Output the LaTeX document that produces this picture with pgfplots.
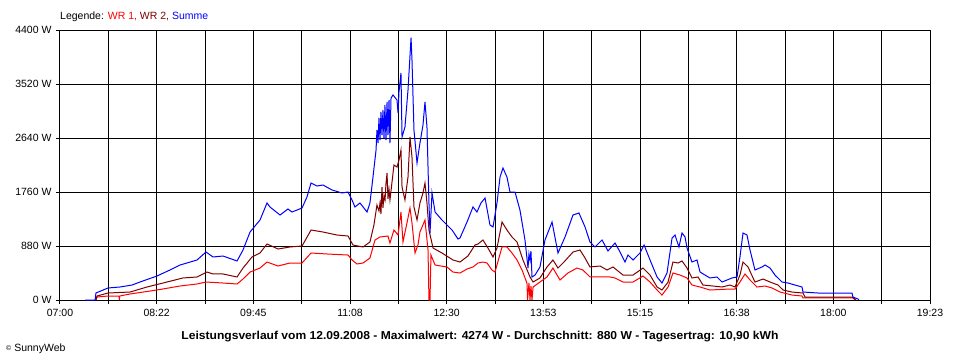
\documentclass[border=0pt]{standalone}
\usepackage{graphicx}
\usepackage{pgfplots}
\pgfplotsset{compat=1.18}
\usepackage{fontspec}
\setmainfont{Liberation Sans}
\definecolor{wrone}{RGB}{255,0,0}
\definecolor{wrtwo}{RGB}{128,0,0}
\definecolor{summe}{RGB}{0,0,255}
\definecolor{gline}{RGB}{128,128,128}
\begin{document}
\begin{tikzpicture}
\useasboundingbox (-60pt,-60pt) rectangle (900pt,300pt);
\begin{axis}[
  at={(0pt,0pt)}, anchor=south west,
  scale only axis, width=870pt, height=270pt,
  xmin=420, xmax=1163, ymin=0, ymax=4400,
  xtick={420,461.278,502.556,543.833,585.111,626.389,667.667,708.944,750.222,791.5,832.778,874.056,915.333,956.611,997.889,1039.167,1080.444,1121.722,1163},
  xticklabels={07:00,,08:22,,09:45,,11:08,,12:30,,13:53,,15:15,,16:38,,18:00,,19:23},
  ytick={0,1760,2640,3520,4400},
  yticklabels={0 W,1760 W,2640 W,3520 W,4400 W},
  extra y ticks={880}, extra y tick labels={880 W},
  extra y tick style={grid style={gline, line width=1pt}},
  grid=major, major grid style={black, line width=1pt},
  axis line style={black, line width=1pt},
  tick style={black, line width=1pt}, tick align=outside, major tick length=4pt,
  xtick pos=bottom, ytick pos=left,
  ticklabel style={font=\fontsize{10.5}{12}\selectfont},
  xticklabel style={yshift=-2pt},
  yticklabel style={xshift=-1pt},
]
% WR 1 (red)
\addplot[draw=wrone, line width=1pt] table {
450.7 0
451.6 49
461.0 65
470.4 65
470.7 0
471.0 65
479.8 98
502.8 163
522.5 228
537.0 261
544.7 293
559.2 277
571.2 261
576.3 342
582.3 456
590.8 521
596.8 619
606.2 554
616.4 603
626.7 603
634.4 766
648.0 750
666.0 733
669.4 652
673.6 587
678.8 603
684.7 684
689.0 978
693.3 1027
700.1 1043
701.8 929
705.2 1141
708.7 1059
711.2 1434
712.9 945
716.3 1255
718.9 1499
720.6 1255
723.2 766
725.7 896
727.4 1108
731.7 1304
734.3 815
735.1 0
736.0 0
736.8 733
740.3 570
750.5 538
755.6 456
761.6 440
767.6 505
772.7 538
777.0 603
781.2 619
784.7 603
788.9 489
791.5 456
797.5 864
801.7 864
806.0 766
810.3 652
814.6 489
817.1 359
818.8 277
819.3 0
820.5 277
821.4 0
822.2 228
823.1 0
824.0 212
829.9 293
835.9 375
841.0 521
847.0 326
853.8 440
861.5 521
866.6 489
872.6 375
883.7 375
889.7 375
894.0 359
900.8 293
909.4 293
917.9 391
923.9 293
929.9 163
934.1 81
939.3 212
943.5 440
949.5 407
955.5 359
959.7 244
966.6 212
975.1 163
992.2 179
996.5 179
1000.7 293
1005.0 424
1009.3 326
1015.2 212
1022.1 228
1028.1 196
1034.9 130
1045.1 81
1053.7 65
1054.5 33
1097.2 33
1098.9 0
};
% WR 2 (dark red)
\addplot[draw=wrtwo, line width=1pt] table {
450.7 0
451.6 65
461.0 114
479.8 130
494.3 212
508.0 277
525.0 359
537.0 375
545.5 456
550.7 424
559.2 424
571.2 375
576.3 521
584.0 701
590.8 766
596.8 913
606.2 831
616.4 864
626.7 880
634.4 1141
644.6 1108
656.6 1059
666.0 1043
670.2 896
678.8 864
684.7 945
688.1 1222
690.7 1548
692.4 1450
693.3 1581
694.1 1400
695.0 1841
695.8 1500
696.7 1700
697.6 1630
698.4 1900
699.3 2070
700.1 1650
701.0 1800
701.8 1630
705.2 2200
707.8 2167
709.5 2281
711.2 2444
712.1 1841
714.6 1630
717.2 2004
718.9 2656
720.6 2330
722.3 1516
724.9 1304
727.4 1581
730.0 1744
731.7 1907
733.4 1581
735.1 1141
738.6 847
746.2 766
755.6 652
761.6 619
768.4 717
774.4 896
777.0 913
781.2 978
785.5 847
789.8 701
793.2 847
797.5 1271
801.7 1141
806.0 1027
810.3 945
815.4 652
821.4 375
824.0 293
829.9 359
835.9 538
841.0 652
845.3 521
850.4 619
858.1 782
864.1 815
868.4 684
872.6 538
881.2 554
887.2 489
892.3 538
900.8 407
909.4 407
917.9 521
923.9 407
929.9 212
934.1 163
939.3 293
943.5 619
947.8 603
951.2 636
955.5 521
959.7 359
964.9 375
969.1 244
977.7 228
985.4 212
992.2 244
996.5 212
1000.7 407
1003.3 619
1007.6 538
1013.5 293
1020.4 342
1026.4 293
1033.2 244
1037.5 163
1045.1 130
1054.5 114
1056.2 49
1096.4 49
1098.9 16
1099.8 0
};
% Summe (blue)
\addplot[draw=summe, line width=1pt] table {
441.4 0
450.0 0
450.7 114
461.0 196
471.2 212
481.5 244
488.3 293
502.8 391
513.9 489
522.5 570
537.0 652
544.7 782
550.7 701
559.2 717
571.2 636
576.3 815
582.3 1108
590.8 1304
596.8 1581
599.3 1516
607.9 1385
614.7 1483
618.1 1434
626.7 1499
630.9 1678
634.4 1907
639.5 1858
644.6 1874
652.3 1793
660.8 1744
666.0 1760
669.4 1630
671.9 1516
676.2 1581
682.2 1434
684.7 1581
687.3 2004
689.9 2444
690.7 2770
691.6 2558
692.4 2966
693.3 2607
694.1 3064
695.0 2689
695.8 3096
696.7 2640
697.5 3178
698.4 2607
699.3 3227
700.1 2689
701.0 3259
701.8 2558
702.7 3292
704.4 3341
707.8 3259
708.7 3047
709.5 3390
711.2 3699
712.1 2656
714.6 2819
717.2 3422
719.8 4274
720.6 3911
722.3 2770
724.9 2233
727.4 2558
730.0 2852
731.7 3227
733.4 2819
735.1 1581
736.0 1092
737.7 1744
740.3 1434
746.2 1304
748.8 1255
754.8 1141
759.9 994
761.6 1010
767.6 1271
772.7 1516
776.1 1434
779.5 1581
783.0 1662
787.2 1222
789.8 1190
793.2 1581
795.8 2004
798.3 2151
801.7 2004
804.3 1760
808.6 1760
812.8 1467
817.1 978
819.7 521
820.5 750
821.4 652
822.2 800
823.1 375
825.7 407
829.9 538
834.2 978
840.2 1271
845.3 766
851.3 1027
858.1 1385
863.2 1418
868.4 1190
872.6 945
876.9 864
882.9 978
888.0 799
894.0 929
898.3 782
902.5 619
905.1 733
909.4 652
915.3 766
918.8 896
923.9 652
929.9 375
934.1 277
938.4 440
942.7 1010
945.2 1059
948.6 864
951.2 1092
953.8 1027
955.5 847
959.7 619
964.0 652
966.6 456
970.8 407
975.1 359
981.1 375
985.4 293
993.9 359
998.2 375
1000.7 701
1003.3 1092
1006.7 1059
1009.3 815
1013.5 489
1019.5 538
1022.1 570
1026.4 521
1030.6 407
1036.6 293
1041.7 277
1047.7 244
1053.7 212
1054.5 130
1067.3 114
1081.9 114
1096.4 114
1097.2 49
1101.5 16
1102.4 0
};
\end{axis}
\node[anchor=west, inner sep=0pt, font=\fontsize{10.5}{12}\selectfont] at (0pt,283.3pt)
  {Legende: \textcolor{wrone}{WR 1,} \textcolor{wrtwo}{WR 2,} \textcolor{summe}{Summe}};
\node[anchor=center, inner sep=0pt, font=\bfseries\fontsize{11.5}{13}\selectfont] at (420pt,-37pt)
  {\scalebox{1.05}[1]{Leistungsverlauf vom 12.09.2008 - Maximalwert: 4274 W - Durchschnitt: 880 W - Tagesertrag: 10,90 kWh}};
\node[anchor=west, inner sep=0pt, font=\fontsize{10.5}{12}\selectfont] at (-54pt,-49pt)
  {{\fontsize{7}{8}\selectfont\raisebox{1pt}{\textcopyright}} SunnyWeb};
\end{tikzpicture}
\end{document}
